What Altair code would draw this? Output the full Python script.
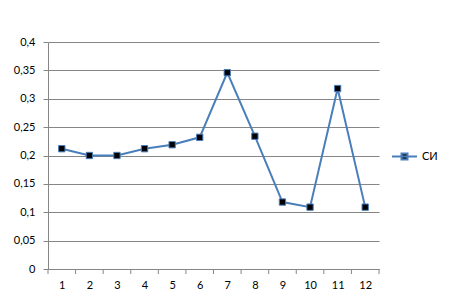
import altair as alt
import pandas as pd

categories = [1, 2, 3, 4, 5, 6, 7, 8, 9, 10, 11, 12]
values = [0.212, 0.200, 0.200, 0.212, 0.219, 0.232, 0.346, 0.234, 0.118, 0.109, 0.318, 0.109]
series_name = "СИ"
y_ticks = [0, 0.05, 0.1, 0.15, 0.2, 0.25, 0.3, 0.35, 0.4]
x_boundaries = [0.5, 1.5, 2.5, 3.5, 4.5, 5.5, 6.5, 7.5, 8.5, 9.5, 10.5, 11.5, 12.5]

df = pd.DataFrame({"x": categories, "y": values, "s": [series_name] * len(categories)})
bdf = pd.DataFrame({"b": x_boundaries, "y0": [0.0] * len(x_boundaries)})

BLUE = "#4A7EBB"
GRAY = "#868686"
FONT = "Lato"

xscale = alt.Scale(domain=[0.5, 12.5], nice=False, zero=False)
yscale = alt.Scale(domain=[0, 0.4], nice=False)

x_axis = alt.Axis(values=categories, ticks=False, tickSize=0, grid=False, labelPadding=10,
                  labelOverlap=False, domainColor=GRAY, labelColor="#000000",
                  labelFont=FONT, labelFontSize=11, title=None)
y_axis = alt.Axis(values=y_ticks, grid=True, gridColor=GRAY, tickColor=GRAY, tickSize=5,
                  labelOverlap=False, domainColor=GRAY, labelPadding=8, labelColor="#000000",
                  labelFont=FONT, labelFontSize=11, title=None,
                  labelExpr="replace(format(datum.value, ''), '.', ',')")

symbol_path = "M-1,0H1M-0.24,-0.24H0.24V0.24H-0.24Z"

line = alt.Chart(df).mark_line(strokeWidth=2).encode(
    x=alt.X("x:Q", scale=xscale, axis=x_axis),
    y=alt.Y("y:Q", scale=yscale, axis=y_axis),
    color=alt.Color("s:N", scale=alt.Scale(range=[BLUE]),
                    legend=alt.Legend(title=None, orient="none", legendX=343, legendY=101,
                                      symbolType=symbol_path, symbolSize=625,
                                      symbolFillColor="#000000", symbolStrokeColor=BLUE,
                                      symbolStrokeWidth=2, labelFont=FONT, labelFontSize=11,
                                      labelColor="#000000", labelOffset=4)),
)

points = alt.Chart(df).mark_point(shape="square", filled=True, fill="#000000", stroke=BLUE,
                                   strokeWidth=1, size=40, opacity=1).encode(
    x=alt.X("x:Q", scale=xscale, axis=x_axis),
    y=alt.Y("y:Q", scale=yscale, axis=y_axis),
)

ticks = alt.Chart(bdf).mark_tick(color=GRAY, thickness=1, size=5, orient="vertical",
                                  yOffset=2.5, opacity=1).encode(
    x=alt.X("b:Q", scale=xscale, axis=x_axis),
    y=alt.Y("y0:Q", scale=yscale, axis=y_axis),
)

chart = alt.layer(ticks, line, points).properties(
    width=331, height=227,
    autosize=alt.AutoSizeParams(type="none"),
    padding={"left": 48, "top": 42, "right": 80, "bottom": 34},
    background="white",
).configure_view(stroke=None).configure_axis(labelOverlap=False)

chart.save("out.html", embed_options={"renderer": "svg", "actions": False})
